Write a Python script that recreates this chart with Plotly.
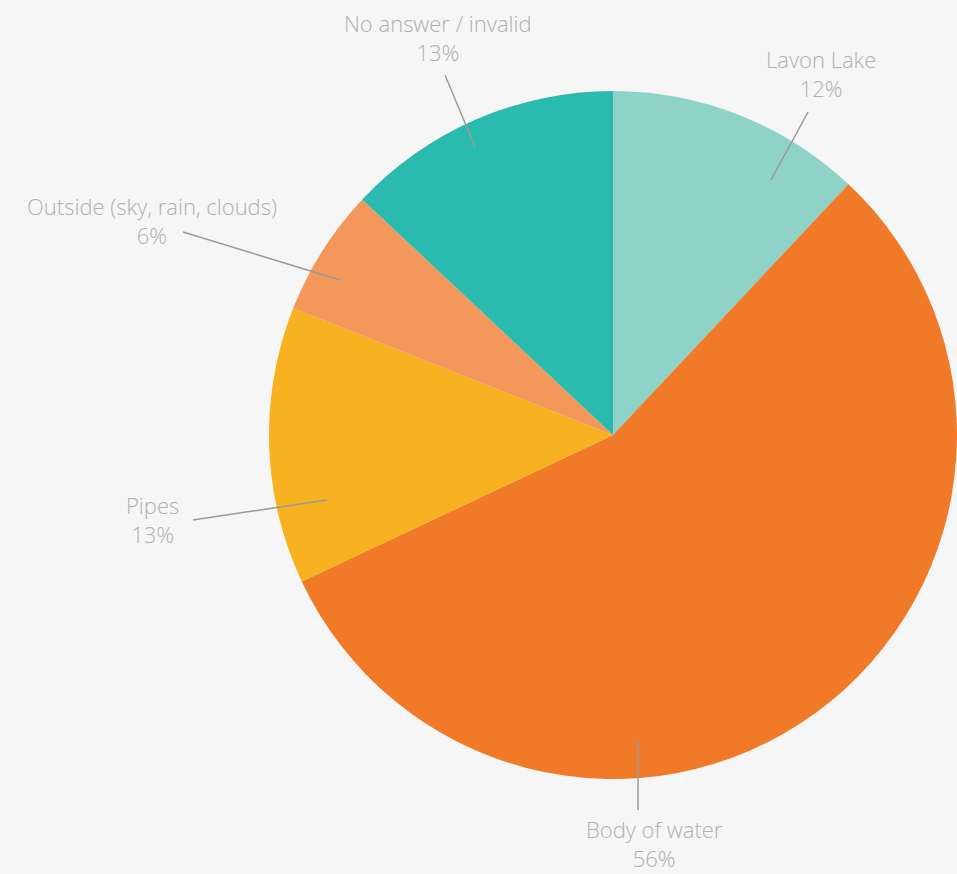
import plotly.graph_objects as go

# Data
categories = ["Lavon Lake", "Body of water", "Pipes", "Outside (sky, rain, clouds)", "No answer / invalid"]
percentages = [12, 56, 13, 6, 13]
colors = ["#8ED2C8", "#F07A28", "#F8B120", "#F4975A", "#2BBAAE"]

# Label layout (pixel positions of leader lines and text centers)
W, H = 957, 874
label_layout = {
    "Lavon Lake": dict(text_xy=(821, 73), line=((771, 180), (808, 112))),
    "Body of water": dict(text_xy=(654, 843), line=((638, 740), (638, 810))),
    "Pipes": dict(text_xy=(152, 519), line=((327, 500), (193, 520))),
    "Outside (sky, rain, clouds)": dict(text_xy=(152, 220), line=((340, 280), (183, 232))),
    "No answer / invalid": dict(text_xy=(438, 38), line=((475, 147), (445, 75))),
}

def px(x):
    return x / W

def py(y):
    return 1 - y / H

# pie geometry: center (613, 435), radius 344
cx, cy, r = 613, 435, 344

fig = go.Figure(go.Pie(
    labels=categories,
    values=percentages,
    marker=dict(colors=colors, line=dict(width=0)),
    sort=False,
    direction="clockwise",
    rotation=0,
    textinfo="none",
    hoverinfo="label+percent",
    showlegend=False,
    domain=dict(x=[px(cx - r), px(cx + r)], y=[py(cy + r), py(cy - r)]),
))

shapes = []
annotations = []
for cat, pct in zip(categories, percentages):
    lay = label_layout[cat]
    (x0, y0), (x1, y1) = lay["line"]
    shapes.append(dict(type="line", xref="paper", yref="paper",
                       x0=px(x0), y0=py(y0), x1=px(x1), y1=py(y1),
                       line=dict(color="#9A9A9A", width=1.5)))
    tx, ty = lay["text_xy"]
    annotations.append(dict(
        x=px(tx), y=py(ty), xref="paper", yref="paper",
        text=f"{cat}<br>{pct}%", showarrow=False,
        xanchor="center", yanchor="middle", align="center",
        font=dict(family="Open Sans", size=22, color="#B0B0B0", weight=300),
    ))

fig.update_layout(
    width=W, height=H, autosize=False,
    margin=dict(l=0, r=0, t=0, b=0),
    paper_bgcolor="#F6F6F6",
    plot_bgcolor="#F6F6F6",
    shapes=shapes,
    annotations=annotations,
)

fig.write_html(
    "out.html",
    config={"displayModeBar": False},
    post_script="document.body.style.margin='0';document.body.style.overflow='hidden';document.body.style.background='#F6F6F6';",
)
